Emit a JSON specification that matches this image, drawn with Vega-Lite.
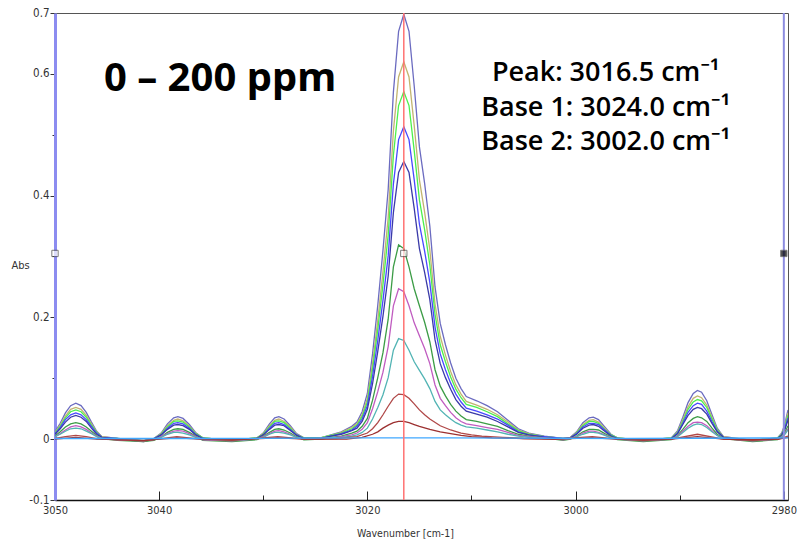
{
"$schema":"https://vega.github.io/schema/vega-lite/v6.json",
"width":733,"height":487,
"autosize":{"type":"none"},
"padding":{"left":55,"top":13,"right":11,"bottom":44},
"background":"white",
"config":{"view":{"stroke":"#555","strokeWidth":1}},
"datasets":{
"curves":[
{"c":1,"w":3050,"a":0.012},{"c":1,"w":3049.5,"a":0.026},{"c":1,"w":3049,"a":0.043},{"c":1,"w":3048.5,"a":0.055},{"c":1,"w":3048,"a":0.059},{"c":1,"w":3047.5,"a":0.055},{"c":1,"w":3047,"a":0.044},{"c":1,"w":3046.5,"a":0.028},{"c":1,"w":3046,"a":0.013},{"c":1,"w":3045.5,"a":0.004},{"c":1,"w":3044,"a":0.001},{"c":1,"w":3041.5,"a":-0.003},{"c":1,"w":3040.5,"a":0.001},{"c":1,"w":3039.8,"a":0.010},{"c":1,"w":3039.2,"a":0.025},{"c":1,"w":3038.6,"a":0.035},{"c":1,"w":3038.2,"a":0.037},{"c":1,"w":3037.7,"a":0.034},{"c":1,"w":3037.1,"a":0.024},{"c":1,"w":3036.5,"a":0.011},{"c":1,"w":3035.8,"a":0.002},{"c":1,"w":3033,"a":-0.002},{"c":1,"w":3030.6,"a":0.002},{"c":1,"w":3030,"a":0.010},{"c":1,"w":3029.4,"a":0.025},{"c":1,"w":3028.9,"a":0.035},{"c":1,"w":3028.5,"a":0.037},{"c":1,"w":3028,"a":0.033},{"c":1,"w":3027.4,"a":0.022},{"c":1,"w":3026.8,"a":0.009},{"c":1,"w":3026.1,"a":0.002},{"c":1,"w":3024.5,"a":0.002},{"c":1,"w":3023.5,"a":0.007},{"c":1,"w":3022.5,"a":0.012},{"c":1,"w":3021.5,"a":0.021},{"c":1,"w":3021,"a":0.028},{"c":1,"w":3020.5,"a":0.045},{"c":1,"w":3020,"a":0.075},{"c":1,"w":3019.5,"a":0.14},{"c":1,"w":3019,"a":0.22},{"c":1,"w":3018.5,"a":0.31},{"c":1,"w":3018,"a":0.41},{"c":1,"w":3017.5,"a":0.57},{"c":1,"w":3017,"a":0.67},{"c":1,"w":3016.5,"a":0.698},{"c":1,"w":3016,"a":0.67},{"c":1,"w":3015.5,"a":0.58},{"c":1,"w":3015,"a":0.48},{"c":1,"w":3014.5,"a":0.42},{"c":1,"w":3014,"a":0.35},{"c":1,"w":3013.5,"a":0.25},{"c":1,"w":3013,"a":0.19},{"c":1,"w":3012.5,"a":0.155},{"c":1,"w":3012,"a":0.125},{"c":1,"w":3011.5,"a":0.10},{"c":1,"w":3011,"a":0.083},{"c":1,"w":3010.5,"a":0.070},{"c":1,"w":3009.5,"a":0.063},{"c":1,"w":3008.5,"a":0.055},{"c":1,"w":3007.5,"a":0.045},{"c":1,"w":3006.5,"a":0.031},{"c":1,"w":3005.5,"a":0.017},{"c":1,"w":3004.5,"a":0.010},{"c":1,"w":3003,"a":0.005},{"c":1,"w":3001.2,"a":0.001},{"c":1,"w":3000.5,"a":0.003},{"c":1,"w":2999.9,"a":0.012},{"c":1,"w":2999.3,"a":0.027},{"c":1,"w":2998.7,"a":0.035},{"c":1,"w":2998.3,"a":0.036},{"c":1,"w":2997.8,"a":0.032},{"c":1,"w":2997.2,"a":0.020},{"c":1,"w":2996.6,"a":0.008},{"c":1,"w":2996,"a":0.002},{"c":1,"w":2993.5,"a":-0.002},{"c":1,"w":2990.8,"a":0.002},{"c":1,"w":2990.2,"a":0.014},{"c":1,"w":2989.7,"a":0.036},{"c":1,"w":2989.2,"a":0.060},{"c":1,"w":2988.7,"a":0.075},{"c":1,"w":2988.3,"a":0.080},{"c":1,"w":2987.9,"a":0.077},{"c":1,"w":2987.4,"a":0.063},{"c":1,"w":2986.9,"a":0.040},{"c":1,"w":2986.4,"a":0.018},{"c":1,"w":2985.8,"a":0.004},{"c":1,"w":2983,"a":-0.002},{"c":1,"w":2980.6,"a":0.002},{"c":1,"w":2980.2,"a":0.010},{"c":1,"w":2979.9,"a":0.025},{"c":1,"w":2979.6,"a":0.048},
{"c":2,"w":3050,"a":0.011},{"c":2,"w":3049.5,"a":0.023},{"c":2,"w":3049,"a":0.038},{"c":2,"w":3048.5,"a":0.049},{"c":2,"w":3048,"a":0.052},{"c":2,"w":3047.5,"a":0.049},{"c":2,"w":3047,"a":0.039},{"c":2,"w":3046.5,"a":0.025},{"c":2,"w":3046,"a":0.012},{"c":2,"w":3045.5,"a":0.004},{"c":2,"w":3044,"a":0.001},{"c":2,"w":3041.5,"a":-0.003},{"c":2,"w":3040.5,"a":0.001},{"c":2,"w":3039.8,"a":0.009},{"c":2,"w":3039.2,"a":0.022},{"c":2,"w":3038.6,"a":0.031},{"c":2,"w":3038.2,"a":0.033},{"c":2,"w":3037.7,"a":0.030},{"c":2,"w":3037.1,"a":0.021},{"c":2,"w":3036.5,"a":0.010},{"c":2,"w":3035.8,"a":0.002},{"c":2,"w":3033,"a":-0.002},{"c":2,"w":3030.6,"a":0.002},{"c":2,"w":3030,"a":0.009},{"c":2,"w":3029.4,"a":0.022},{"c":2,"w":3028.9,"a":0.031},{"c":2,"w":3028.5,"a":0.033},{"c":2,"w":3028,"a":0.029},{"c":2,"w":3027.4,"a":0.020},{"c":2,"w":3026.8,"a":0.008},{"c":2,"w":3026.1,"a":0.002},{"c":2,"w":3024.5,"a":0.002},{"c":2,"w":3023.5,"a":0.006},{"c":2,"w":3022.5,"a":0.011},{"c":2,"w":3021.5,"a":0.019},{"c":2,"w":3021,"a":0.025},{"c":2,"w":3020.5,"a":0.040},{"c":2,"w":3020,"a":0.067},{"c":2,"w":3019.5,"a":0.124},{"c":2,"w":3019,"a":0.195},{"c":2,"w":3018.5,"a":0.275},{"c":2,"w":3018,"a":0.364},{"c":2,"w":3017.5,"a":0.506},{"c":2,"w":3017,"a":0.595},{"c":2,"w":3016.5,"a":0.62},{"c":2,"w":3016,"a":0.595},{"c":2,"w":3015.5,"a":0.515},{"c":2,"w":3015,"a":0.426},{"c":2,"w":3014.5,"a":0.373},{"c":2,"w":3014,"a":0.311},{"c":2,"w":3013.5,"a":0.222},{"c":2,"w":3013,"a":0.169},{"c":2,"w":3012.5,"a":0.138},{"c":2,"w":3012,"a":0.111},{"c":2,"w":3011.5,"a":0.089},{"c":2,"w":3011,"a":0.074},{"c":2,"w":3010.5,"a":0.062},{"c":2,"w":3009.5,"a":0.056},{"c":2,"w":3008.5,"a":0.049},{"c":2,"w":3007.5,"a":0.040},{"c":2,"w":3006.5,"a":0.028},{"c":2,"w":3005.5,"a":0.015},{"c":2,"w":3004.5,"a":0.009},{"c":2,"w":3003,"a":0.004},{"c":2,"w":3001.2,"a":0.001},{"c":2,"w":3000.5,"a":0.003},{"c":2,"w":2999.9,"a":0.011},{"c":2,"w":2999.3,"a":0.024},{"c":2,"w":2998.7,"a":0.031},{"c":2,"w":2998.3,"a":0.032},{"c":2,"w":2997.8,"a":0.028},{"c":2,"w":2997.2,"a":0.018},{"c":2,"w":2996.6,"a":0.007},{"c":2,"w":2996,"a":0.002},{"c":2,"w":2993.5,"a":-0.002},{"c":2,"w":2990.8,"a":0.002},{"c":2,"w":2990.2,"a":0.012},{"c":2,"w":2989.7,"a":0.032},{"c":2,"w":2989.2,"a":0.053},{"c":2,"w":2988.7,"a":0.067},{"c":2,"w":2988.3,"a":0.071},{"c":2,"w":2987.9,"a":0.068},{"c":2,"w":2987.4,"a":0.056},{"c":2,"w":2986.9,"a":0.036},{"c":2,"w":2986.4,"a":0.016},{"c":2,"w":2985.8,"a":0.004},{"c":2,"w":2983,"a":-0.002},{"c":2,"w":2980.6,"a":0.002},{"c":2,"w":2980.2,"a":0.009},{"c":2,"w":2979.9,"a":0.022},{"c":2,"w":2979.6,"a":0.043},
{"c":3,"w":3050,"a":0.010},{"c":3,"w":3049.5,"a":0.021},{"c":3,"w":3049,"a":0.035},{"c":3,"w":3048.5,"a":0.045},{"c":3,"w":3048,"a":0.048},{"c":3,"w":3047.5,"a":0.045},{"c":3,"w":3047,"a":0.036},{"c":3,"w":3046.5,"a":0.023},{"c":3,"w":3046,"a":0.011},{"c":3,"w":3045.5,"a":0.003},{"c":3,"w":3044,"a":0.001},{"c":3,"w":3041.5,"a":-0.003},{"c":3,"w":3040.5,"a":0.001},{"c":3,"w":3039.8,"a":0.008},{"c":3,"w":3039.2,"a":0.020},{"c":3,"w":3038.6,"a":0.029},{"c":3,"w":3038.2,"a":0.030},{"c":3,"w":3037.7,"a":0.028},{"c":3,"w":3037.1,"a":0.020},{"c":3,"w":3036.5,"a":0.009},{"c":3,"w":3035.8,"a":0.002},{"c":3,"w":3033,"a":-0.002},{"c":3,"w":3030.6,"a":0.002},{"c":3,"w":3030,"a":0.008},{"c":3,"w":3029.4,"a":0.020},{"c":3,"w":3028.9,"a":0.029},{"c":3,"w":3028.5,"a":0.030},{"c":3,"w":3028,"a":0.027},{"c":3,"w":3027.4,"a":0.018},{"c":3,"w":3026.8,"a":0.007},{"c":3,"w":3026.1,"a":0.002},{"c":3,"w":3024.5,"a":0.002},{"c":3,"w":3023.5,"a":0.006},{"c":3,"w":3022.5,"a":0.010},{"c":3,"w":3021.5,"a":0.017},{"c":3,"w":3021,"a":0.023},{"c":3,"w":3020.5,"a":0.037},{"c":3,"w":3020,"a":0.061},{"c":3,"w":3019.5,"a":0.115},{"c":3,"w":3019,"a":0.180},{"c":3,"w":3018.5,"a":0.254},{"c":3,"w":3018,"a":0.335},{"c":3,"w":3017.5,"a":0.466},{"c":3,"w":3017,"a":0.548},{"c":3,"w":3016.5,"a":0.571},{"c":3,"w":3016,"a":0.548},{"c":3,"w":3015.5,"a":0.474},{"c":3,"w":3015,"a":0.393},{"c":3,"w":3014.5,"a":0.344},{"c":3,"w":3014,"a":0.286},{"c":3,"w":3013.5,"a":0.205},{"c":3,"w":3013,"a":0.155},{"c":3,"w":3012.5,"a":0.127},{"c":3,"w":3012,"a":0.102},{"c":3,"w":3011.5,"a":0.082},{"c":3,"w":3011,"a":0.068},{"c":3,"w":3010.5,"a":0.057},{"c":3,"w":3009.5,"a":0.052},{"c":3,"w":3008.5,"a":0.045},{"c":3,"w":3007.5,"a":0.037},{"c":3,"w":3006.5,"a":0.025},{"c":3,"w":3005.5,"a":0.014},{"c":3,"w":3004.5,"a":0.008},{"c":3,"w":3003,"a":0.004},{"c":3,"w":3001.2,"a":0.001},{"c":3,"w":3000.5,"a":0.002},{"c":3,"w":2999.9,"a":0.010},{"c":3,"w":2999.3,"a":0.022},{"c":3,"w":2998.7,"a":0.029},{"c":3,"w":2998.3,"a":0.029},{"c":3,"w":2997.8,"a":0.026},{"c":3,"w":2997.2,"a":0.016},{"c":3,"w":2996.6,"a":0.007},{"c":3,"w":2996,"a":0.002},{"c":3,"w":2993.5,"a":-0.002},{"c":3,"w":2990.8,"a":0.002},{"c":3,"w":2990.2,"a":0.011},{"c":3,"w":2989.7,"a":0.029},{"c":3,"w":2989.2,"a":0.049},{"c":3,"w":2988.7,"a":0.061},{"c":3,"w":2988.3,"a":0.065},{"c":3,"w":2987.9,"a":0.063},{"c":3,"w":2987.4,"a":0.052},{"c":3,"w":2986.9,"a":0.033},{"c":3,"w":2986.4,"a":0.015},{"c":3,"w":2985.8,"a":0.003},{"c":3,"w":2983,"a":-0.002},{"c":3,"w":2980.6,"a":0.002},{"c":3,"w":2980.2,"a":0.008},{"c":3,"w":2979.9,"a":0.020},{"c":3,"w":2979.6,"a":0.039},
{"c":4,"w":3050,"a":0.009},{"c":4,"w":3049.5,"a":0.019},{"c":4,"w":3049,"a":0.032},{"c":4,"w":3048.5,"a":0.040},{"c":4,"w":3048,"a":0.043},{"c":4,"w":3047.5,"a":0.040},{"c":4,"w":3047,"a":0.032},{"c":4,"w":3046.5,"a":0.021},{"c":4,"w":3046,"a":0.010},{"c":4,"w":3045.5,"a":0.003},{"c":4,"w":3044,"a":0.001},{"c":4,"w":3041.5,"a":-0.003},{"c":4,"w":3040.5,"a":0.001},{"c":4,"w":3039.8,"a":0.007},{"c":4,"w":3039.2,"a":0.018},{"c":4,"w":3038.6,"a":0.026},{"c":4,"w":3038.2,"a":0.027},{"c":4,"w":3037.7,"a":0.025},{"c":4,"w":3037.1,"a":0.018},{"c":4,"w":3036.5,"a":0.008},{"c":4,"w":3035.8,"a":0.001},{"c":4,"w":3033,"a":-0.002},{"c":4,"w":3030.6,"a":0.001},{"c":4,"w":3030,"a":0.007},{"c":4,"w":3029.4,"a":0.018},{"c":4,"w":3028.9,"a":0.026},{"c":4,"w":3028.5,"a":0.027},{"c":4,"w":3028,"a":0.024},{"c":4,"w":3027.4,"a":0.016},{"c":4,"w":3026.8,"a":0.007},{"c":4,"w":3026.1,"a":0.001},{"c":4,"w":3024.5,"a":0.001},{"c":4,"w":3023.5,"a":0.005},{"c":4,"w":3022.5,"a":0.009},{"c":4,"w":3021.5,"a":0.015},{"c":4,"w":3021,"a":0.021},{"c":4,"w":3020.5,"a":0.033},{"c":4,"w":3020,"a":0.055},{"c":4,"w":3019.5,"a":0.103},{"c":4,"w":3019,"a":0.162},{"c":4,"w":3018.5,"a":0.228},{"c":4,"w":3018,"a":0.301},{"c":4,"w":3017.5,"a":0.419},{"c":4,"w":3017,"a":0.492},{"c":4,"w":3016.5,"a":0.513},{"c":4,"w":3016,"a":0.492},{"c":4,"w":3015.5,"a":0.426},{"c":4,"w":3015,"a":0.353},{"c":4,"w":3014.5,"a":0.309},{"c":4,"w":3014,"a":0.257},{"c":4,"w":3013.5,"a":0.184},{"c":4,"w":3013,"a":0.140},{"c":4,"w":3012.5,"a":0.114},{"c":4,"w":3012,"a":0.092},{"c":4,"w":3011.5,"a":0.074},{"c":4,"w":3011,"a":0.061},{"c":4,"w":3010.5,"a":0.051},{"c":4,"w":3009.5,"a":0.046},{"c":4,"w":3008.5,"a":0.040},{"c":4,"w":3007.5,"a":0.033},{"c":4,"w":3006.5,"a":0.023},{"c":4,"w":3005.5,"a":0.012},{"c":4,"w":3004.5,"a":0.007},{"c":4,"w":3003,"a":0.004},{"c":4,"w":3001.2,"a":0.001},{"c":4,"w":3000.5,"a":0.002},{"c":4,"w":2999.9,"a":0.009},{"c":4,"w":2999.3,"a":0.020},{"c":4,"w":2998.7,"a":0.026},{"c":4,"w":2998.3,"a":0.026},{"c":4,"w":2997.8,"a":0.024},{"c":4,"w":2997.2,"a":0.015},{"c":4,"w":2996.6,"a":0.006},{"c":4,"w":2996,"a":0.001},{"c":4,"w":2993.5,"a":-0.002},{"c":4,"w":2990.8,"a":0.001},{"c":4,"w":2990.2,"a":0.010},{"c":4,"w":2989.7,"a":0.026},{"c":4,"w":2989.2,"a":0.044},{"c":4,"w":2988.7,"a":0.055},{"c":4,"w":2988.3,"a":0.059},{"c":4,"w":2987.9,"a":0.057},{"c":4,"w":2987.4,"a":0.046},{"c":4,"w":2986.9,"a":0.029},{"c":4,"w":2986.4,"a":0.013},{"c":4,"w":2985.8,"a":0.003},{"c":4,"w":2983,"a":-0.002},{"c":4,"w":2980.6,"a":0.001},{"c":4,"w":2980.2,"a":0.007},{"c":4,"w":2979.9,"a":0.018},{"c":4,"w":2979.6,"a":0.035},
{"c":5,"w":3050,"a":0.008},{"c":5,"w":3049.5,"a":0.017},{"c":5,"w":3049,"a":0.028},{"c":5,"w":3048.5,"a":0.036},{"c":5,"w":3048,"a":0.039},{"c":5,"w":3047.5,"a":0.036},{"c":5,"w":3047,"a":0.029},{"c":5,"w":3046.5,"a":0.018},{"c":5,"w":3046,"a":0.008},{"c":5,"w":3045.5,"a":0.003},{"c":5,"w":3044,"a":0.000},{"c":5,"w":3041.5,"a":-0.004},{"c":5,"w":3040.5,"a":0.000},{"c":5,"w":3039.8,"a":0.007},{"c":5,"w":3039.2,"a":0.016},{"c":5,"w":3038.6,"a":0.023},{"c":5,"w":3038.2,"a":0.024},{"c":5,"w":3037.7,"a":0.022},{"c":5,"w":3037.1,"a":0.016},{"c":5,"w":3036.5,"a":0.007},{"c":5,"w":3035.8,"a":0.001},{"c":5,"w":3033,"a":-0.003},{"c":5,"w":3030.6,"a":0.001},{"c":5,"w":3030,"a":0.007},{"c":5,"w":3029.4,"a":0.016},{"c":5,"w":3028.9,"a":0.023},{"c":5,"w":3028.5,"a":0.024},{"c":5,"w":3028,"a":0.022},{"c":5,"w":3027.4,"a":0.014},{"c":5,"w":3026.8,"a":0.006},{"c":5,"w":3026.1,"a":0.001},{"c":5,"w":3024.5,"a":0.001},{"c":5,"w":3023.5,"a":0.005},{"c":5,"w":3022.5,"a":0.008},{"c":5,"w":3021.5,"a":0.014},{"c":5,"w":3021,"a":0.018},{"c":5,"w":3020.5,"a":0.029},{"c":5,"w":3020,"a":0.049},{"c":5,"w":3019.5,"a":0.091},{"c":5,"w":3019,"a":0.144},{"c":5,"w":3018.5,"a":0.202},{"c":5,"w":3018,"a":0.268},{"c":5,"w":3017.5,"a":0.372},{"c":5,"w":3017,"a":0.438},{"c":5,"w":3016.5,"a":0.456},{"c":5,"w":3016,"a":0.438},{"c":5,"w":3015.5,"a":0.379},{"c":5,"w":3015,"a":0.313},{"c":5,"w":3014.5,"a":0.274},{"c":5,"w":3014,"a":0.229},{"c":5,"w":3013.5,"a":0.163},{"c":5,"w":3013,"a":0.124},{"c":5,"w":3012.5,"a":0.101},{"c":5,"w":3012,"a":0.082},{"c":5,"w":3011.5,"a":0.065},{"c":5,"w":3011,"a":0.054},{"c":5,"w":3010.5,"a":0.046},{"c":5,"w":3009.5,"a":0.041},{"c":5,"w":3008.5,"a":0.036},{"c":5,"w":3007.5,"a":0.029},{"c":5,"w":3006.5,"a":0.020},{"c":5,"w":3005.5,"a":0.011},{"c":5,"w":3004.5,"a":0.007},{"c":5,"w":3003,"a":0.003},{"c":5,"w":3001.2,"a":0.000},{"c":5,"w":3000.5,"a":0.002},{"c":5,"w":2999.9,"a":0.008},{"c":5,"w":2999.3,"a":0.018},{"c":5,"w":2998.7,"a":0.023},{"c":5,"w":2998.3,"a":0.024},{"c":5,"w":2997.8,"a":0.021},{"c":5,"w":2997.2,"a":0.013},{"c":5,"w":2996.6,"a":0.005},{"c":5,"w":2996,"a":0.001},{"c":5,"w":2993.5,"a":-0.003},{"c":5,"w":2990.8,"a":0.001},{"c":5,"w":2990.2,"a":0.009},{"c":5,"w":2989.7,"a":0.024},{"c":5,"w":2989.2,"a":0.039},{"c":5,"w":2988.7,"a":0.049},{"c":5,"w":2988.3,"a":0.052},{"c":5,"w":2987.9,"a":0.050},{"c":5,"w":2987.4,"a":0.041},{"c":5,"w":2986.9,"a":0.026},{"c":5,"w":2986.4,"a":0.012},{"c":5,"w":2985.8,"a":0.003},{"c":5,"w":2983,"a":-0.003},{"c":5,"w":2980.6,"a":0.001},{"c":5,"w":2980.2,"a":0.007},{"c":5,"w":2979.9,"a":0.016},{"c":5,"w":2979.6,"a":0.031},
{"c":6,"w":3050,"a":0.005},{"c":6,"w":3049.5,"a":0.012},{"c":6,"w":3049,"a":0.020},{"c":6,"w":3048.5,"a":0.025},{"c":6,"w":3048,"a":0.027},{"c":6,"w":3047.5,"a":0.025},{"c":6,"w":3047,"a":0.020},{"c":6,"w":3046.5,"a":0.013},{"c":6,"w":3046,"a":0.006},{"c":6,"w":3045.5,"a":0.001},{"c":6,"w":3044,"a":-0.002},{"c":6,"w":3041.5,"a":-0.004},{"c":6,"w":3040.5,"a":-0.002},{"c":6,"w":3039.8,"a":0.004},{"c":6,"w":3039.2,"a":0.011},{"c":6,"w":3038.6,"a":0.016},{"c":6,"w":3038.2,"a":0.017},{"c":6,"w":3037.7,"a":0.016},{"c":6,"w":3037.1,"a":0.011},{"c":6,"w":3036.5,"a":0.005},{"c":6,"w":3035.8,"a":-0.002},{"c":6,"w":3033,"a":-0.004},{"c":6,"w":3030.6,"a":-0.001},{"c":6,"w":3030,"a":0.005},{"c":6,"w":3029.4,"a":0.011},{"c":6,"w":3028.9,"a":0.016},{"c":6,"w":3028.5,"a":0.017},{"c":6,"w":3028,"a":0.015},{"c":6,"w":3027.4,"a":0.010},{"c":6,"w":3026.8,"a":0.004},{"c":6,"w":3026.1,"a":-0.001},{"c":6,"w":3024.5,"a":0.000},{"c":6,"w":3023.5,"a":0.003},{"c":6,"w":3022.5,"a":0.005},{"c":6,"w":3021.5,"a":0.010},{"c":6,"w":3021,"a":0.013},{"c":6,"w":3020.5,"a":0.021},{"c":6,"w":3020,"a":0.034},{"c":6,"w":3019.5,"a":0.064},{"c":6,"w":3019,"a":0.101},{"c":6,"w":3018.5,"a":0.142},{"c":6,"w":3018,"a":0.197},{"c":6,"w":3017.5,"a":0.283},{"c":6,"w":3017,"a":0.319},{"c":6,"w":3016.5,"a":0.313},{"c":6,"w":3016,"a":0.283},{"c":6,"w":3015.5,"a":0.247},{"c":6,"w":3015,"a":0.219},{"c":6,"w":3014.5,"a":0.192},{"c":6,"w":3014,"a":0.160},{"c":6,"w":3013.5,"a":0.114},{"c":6,"w":3013,"a":0.087},{"c":6,"w":3012.5,"a":0.071},{"c":6,"w":3012,"a":0.057},{"c":6,"w":3011.5,"a":0.046},{"c":6,"w":3011,"a":0.038},{"c":6,"w":3010.5,"a":0.032},{"c":6,"w":3009.5,"a":0.029},{"c":6,"w":3008.5,"a":0.025},{"c":6,"w":3007.5,"a":0.021},{"c":6,"w":3006.5,"a":0.014},{"c":6,"w":3005.5,"a":0.008},{"c":6,"w":3004.5,"a":0.005},{"c":6,"w":3003,"a":0.002},{"c":6,"w":3001.2,"a":-0.002},{"c":6,"w":3000.5,"a":0.000},{"c":6,"w":2999.9,"a":0.005},{"c":6,"w":2999.3,"a":0.012},{"c":6,"w":2998.7,"a":0.016},{"c":6,"w":2998.3,"a":0.016},{"c":6,"w":2997.8,"a":0.015},{"c":6,"w":2997.2,"a":0.009},{"c":6,"w":2996.6,"a":0.004},{"c":6,"w":2996,"a":-0.001},{"c":6,"w":2993.5,"a":-0.004},{"c":6,"w":2990.8,"a":-0.001},{"c":6,"w":2990.2,"a":0.006},{"c":6,"w":2989.7,"a":0.016},{"c":6,"w":2989.2,"a":0.027},{"c":6,"w":2988.7,"a":0.034},{"c":6,"w":2988.3,"a":0.037},{"c":6,"w":2987.9,"a":0.035},{"c":6,"w":2987.4,"a":0.029},{"c":6,"w":2986.9,"a":0.018},{"c":6,"w":2986.4,"a":0.008},{"c":6,"w":2985.8,"a":0.001},{"c":6,"w":2983,"a":-0.004},{"c":6,"w":2980.6,"a":-0.001},{"c":6,"w":2980.2,"a":0.005},{"c":6,"w":2979.9,"a":0.011},{"c":6,"w":2979.6,"a":0.022},
{"c":7,"w":3050,"a":0.004},{"c":7,"w":3049.5,"a":0.009},{"c":7,"w":3049,"a":0.015},{"c":7,"w":3048.5,"a":0.020},{"c":7,"w":3048,"a":0.022},{"c":7,"w":3047.5,"a":0.020},{"c":7,"w":3047,"a":0.016},{"c":7,"w":3046.5,"a":0.010},{"c":7,"w":3046,"a":0.005},{"c":7,"w":3045.5,"a":0.001},{"c":7,"w":3044,"a":-0.001},{"c":7,"w":3041.5,"a":-0.003},{"c":7,"w":3040.5,"a":-0.001},{"c":7,"w":3039.8,"a":0.004},{"c":7,"w":3039.2,"a":0.009},{"c":7,"w":3038.6,"a":0.013},{"c":7,"w":3038.2,"a":0.014},{"c":7,"w":3037.7,"a":0.013},{"c":7,"w":3037.1,"a":0.009},{"c":7,"w":3036.5,"a":0.004},{"c":7,"w":3035.8,"a":-0.001},{"c":7,"w":3033,"a":-0.003},{"c":7,"w":3030.6,"a":0.000},{"c":7,"w":3030,"a":0.004},{"c":7,"w":3029.4,"a":0.009},{"c":7,"w":3028.9,"a":0.013},{"c":7,"w":3028.5,"a":0.014},{"c":7,"w":3028,"a":0.012},{"c":7,"w":3027.4,"a":0.008},{"c":7,"w":3026.8,"a":0.003},{"c":7,"w":3026.1,"a":0.000},{"c":7,"w":3024.5,"a":0.001},{"c":7,"w":3023.5,"a":0.002},{"c":7,"w":3022.5,"a":0.004},{"c":7,"w":3021.5,"a":0.007},{"c":7,"w":3021,"a":0.010},{"c":7,"w":3020.5,"a":0.016},{"c":7,"w":3020,"a":0.027},{"c":7,"w":3019.5,"a":0.050},{"c":7,"w":3019,"a":0.078},{"c":7,"w":3018.5,"a":0.110},{"c":7,"w":3018,"a":0.152},{"c":7,"w":3017.5,"a":0.219},{"c":7,"w":3017,"a":0.247},{"c":7,"w":3016.5,"a":0.242},{"c":7,"w":3016,"a":0.219},{"c":7,"w":3015.5,"a":0.191},{"c":7,"w":3015,"a":0.170},{"c":7,"w":3014.5,"a":0.149},{"c":7,"w":3014,"a":0.124},{"c":7,"w":3013.5,"a":0.089},{"c":7,"w":3013,"a":0.067},{"c":7,"w":3012.5,"a":0.055},{"c":7,"w":3012,"a":0.044},{"c":7,"w":3011.5,"a":0.035},{"c":7,"w":3011,"a":0.029},{"c":7,"w":3010.5,"a":0.025},{"c":7,"w":3009.5,"a":0.022},{"c":7,"w":3008.5,"a":0.019},{"c":7,"w":3007.5,"a":0.016},{"c":7,"w":3006.5,"a":0.011},{"c":7,"w":3005.5,"a":0.006},{"c":7,"w":3004.5,"a":0.004},{"c":7,"w":3003,"a":0.002},{"c":7,"w":3001.2,"a":-0.001},{"c":7,"w":3000.5,"a":0.001},{"c":7,"w":2999.9,"a":0.004},{"c":7,"w":2999.3,"a":0.010},{"c":7,"w":2998.7,"a":0.013},{"c":7,"w":2998.3,"a":0.013},{"c":7,"w":2997.8,"a":0.011},{"c":7,"w":2997.2,"a":0.007},{"c":7,"w":2996.6,"a":0.003},{"c":7,"w":2996,"a":0.000},{"c":7,"w":2993.5,"a":-0.003},{"c":7,"w":2990.8,"a":0.000},{"c":7,"w":2990.2,"a":0.005},{"c":7,"w":2989.7,"a":0.013},{"c":7,"w":2989.2,"a":0.021},{"c":7,"w":2988.7,"a":0.027},{"c":7,"w":2988.3,"a":0.028},{"c":7,"w":2987.9,"a":0.027},{"c":7,"w":2987.4,"a":0.022},{"c":7,"w":2986.9,"a":0.014},{"c":7,"w":2986.4,"a":0.006},{"c":7,"w":2985.8,"a":0.001},{"c":7,"w":2983,"a":-0.003},{"c":7,"w":2980.6,"a":0.000},{"c":7,"w":2980.2,"a":0.004},{"c":7,"w":2979.9,"a":0.009},{"c":7,"w":2979.6,"a":0.017},
{"c":8,"w":3050,"a":0.004},{"c":8,"w":3049.5,"a":0.008},{"c":8,"w":3049,"a":0.013},{"c":8,"w":3048.5,"a":0.017},{"c":8,"w":3048,"a":0.018},{"c":8,"w":3047.5,"a":0.017},{"c":8,"w":3047,"a":0.013},{"c":8,"w":3046.5,"a":0.009},{"c":8,"w":3046,"a":0.004},{"c":8,"w":3045.5,"a":0.001},{"c":8,"w":3044,"a":0.000},{"c":8,"w":3041.5,"a":-0.002},{"c":8,"w":3040.5,"a":0.000},{"c":8,"w":3039.8,"a":0.003},{"c":8,"w":3039.2,"a":0.008},{"c":8,"w":3038.6,"a":0.011},{"c":8,"w":3038.2,"a":0.011},{"c":8,"w":3037.7,"a":0.010},{"c":8,"w":3037.1,"a":0.007},{"c":8,"w":3036.5,"a":0.003},{"c":8,"w":3035.8,"a":0.000},{"c":8,"w":3033,"a":-0.002},{"c":8,"w":3030.6,"a":0.000},{"c":8,"w":3030,"a":0.003},{"c":8,"w":3029.4,"a":0.008},{"c":8,"w":3028.9,"a":0.011},{"c":8,"w":3028.5,"a":0.011},{"c":8,"w":3028,"a":0.010},{"c":8,"w":3027.4,"a":0.007},{"c":8,"w":3026.8,"a":0.003},{"c":8,"w":3026.1,"a":0.000},{"c":8,"w":3024.5,"a":0.000},{"c":8,"w":3023.5,"a":0.002},{"c":8,"w":3022.5,"a":0.003},{"c":8,"w":3021.5,"a":0.005},{"c":8,"w":3021,"a":0.007},{"c":8,"w":3020.5,"a":0.011},{"c":8,"w":3020,"a":0.018},{"c":8,"w":3019.5,"a":0.033},{"c":8,"w":3019,"a":0.052},{"c":8,"w":3018.5,"a":0.073},{"c":8,"w":3018,"a":0.101},{"c":8,"w":3017.5,"a":0.146},{"c":8,"w":3017,"a":0.165},{"c":8,"w":3016.5,"a":0.162},{"c":8,"w":3016,"a":0.146},{"c":8,"w":3015.5,"a":0.127},{"c":8,"w":3015,"a":0.113},{"c":8,"w":3014.5,"a":0.099},{"c":8,"w":3014,"a":0.083},{"c":8,"w":3013.5,"a":0.062},{"c":8,"w":3013,"a":0.048},{"c":8,"w":3012.5,"a":0.040},{"c":8,"w":3012,"a":0.033},{"c":8,"w":3011.5,"a":0.027},{"c":8,"w":3011,"a":0.023},{"c":8,"w":3010.5,"a":0.020},{"c":8,"w":3009.5,"a":0.018},{"c":8,"w":3008.5,"a":0.015},{"c":8,"w":3007.5,"a":0.012},{"c":8,"w":3006.5,"a":0.008},{"c":8,"w":3005.5,"a":0.005},{"c":8,"w":3004.5,"a":0.003},{"c":8,"w":3003,"a":0.001},{"c":8,"w":3001.2,"a":0.000},{"c":8,"w":3000.5,"a":0.001},{"c":8,"w":2999.9,"a":0.004},{"c":8,"w":2999.3,"a":0.008},{"c":8,"w":2998.7,"a":0.011},{"c":8,"w":2998.3,"a":0.011},{"c":8,"w":2997.8,"a":0.010},{"c":8,"w":2997.2,"a":0.006},{"c":8,"w":2996.6,"a":0.002},{"c":8,"w":2996,"a":0.000},{"c":8,"w":2993.5,"a":-0.002},{"c":8,"w":2990.8,"a":0.000},{"c":8,"w":2990.2,"a":0.004},{"c":8,"w":2989.7,"a":0.011},{"c":8,"w":2989.2,"a":0.018},{"c":8,"w":2988.7,"a":0.023},{"c":8,"w":2988.3,"a":0.025},{"c":8,"w":2987.9,"a":0.024},{"c":8,"w":2987.4,"a":0.019},{"c":8,"w":2986.9,"a":0.012},{"c":8,"w":2986.4,"a":0.006},{"c":8,"w":2985.8,"a":0.001},{"c":8,"w":2983,"a":-0.002},{"c":8,"w":2980.6,"a":0.000},{"c":8,"w":2980.2,"a":0.003},{"c":8,"w":2979.9,"a":0.008},{"c":8,"w":2979.6,"a":0.015},
{"c":9,"w":3050,"a":0.001},{"c":9,"w":3049,"a":0.004},{"c":9,"w":3048,"a":0.006},{"c":9,"w":3047,"a":0.004},{"c":9,"w":3046,"a":0.001},{"c":9,"w":3041.5,"a":-0.003},{"c":9,"w":3038.3,"a":0.004},{"c":9,"w":3036,"a":0.000},{"c":9,"w":3033,"a":-0.002},{"c":9,"w":3028.6,"a":0.004},{"c":9,"w":3026,"a":0.000},{"c":9,"w":3023,"a":0.001},{"c":9,"w":3021,"a":0.004},{"c":9,"w":3020,"a":0.010},{"c":9,"w":3019.5,"a":0.017},{"c":9,"w":3019,"a":0.027},{"c":9,"w":3018.5,"a":0.040},{"c":9,"w":3018,"a":0.054},{"c":9,"w":3017.5,"a":0.067},{"c":9,"w":3017,"a":0.074},{"c":9,"w":3016.5,"a":0.073},{"c":9,"w":3016,"a":0.067},{"c":9,"w":3015.5,"a":0.058},{"c":9,"w":3015,"a":0.048},{"c":9,"w":3014.5,"a":0.040},{"c":9,"w":3014,"a":0.033},{"c":9,"w":3013,"a":0.022},{"c":9,"w":3012,"a":0.015},{"c":9,"w":3011,"a":0.010},{"c":9,"w":3010,"a":0.007},{"c":9,"w":3009,"a":0.005},{"c":9,"w":3007,"a":0.003},{"c":9,"w":3005,"a":0.001},{"c":9,"w":3002,"a":0.000},{"c":9,"w":2998.4,"a":0.004},{"c":9,"w":2996,"a":0.000},{"c":9,"w":2993.5,"a":-0.002},{"c":9,"w":2990.8,"a":0.000},{"c":9,"w":2988.3,"a":0.008},{"c":9,"w":2985.8,"a":0.000},{"c":9,"w":2983,"a":-0.002},{"c":9,"w":2980.5,"a":0.000},{"c":9,"w":2979.6,"a":0.005},
{"c":10,"w":3050,"a":0.000},{"c":10,"w":3048,"a":0.003},{"c":10,"w":3046,"a":0.000},{"c":10,"w":3041.5,"a":-0.002},{"c":10,"w":3038.3,"a":0.002},{"c":10,"w":3036,"a":0.000},{"c":10,"w":3033,"a":-0.001},{"c":10,"w":3028.6,"a":0.002},{"c":10,"w":3026,"a":0.000},{"c":10,"w":3022,"a":0.000},{"c":10,"w":3020.5,"a":0.003},{"c":10,"w":3019.5,"a":0.008},{"c":10,"w":3019,"a":0.012},{"c":10,"w":3018.5,"a":0.018},{"c":10,"w":3018,"a":0.023},{"c":10,"w":3017.5,"a":0.027},{"c":10,"w":3017,"a":0.029},{"c":10,"w":3016.5,"a":0.029},{"c":10,"w":3016,"a":0.027},{"c":10,"w":3015.5,"a":0.024},{"c":10,"w":3015,"a":0.021},{"c":10,"w":3014,"a":0.016},{"c":10,"w":3013,"a":0.012},{"c":10,"w":3012,"a":0.009},{"c":10,"w":3011,"a":0.006},{"c":10,"w":3010,"a":0.004},{"c":10,"w":3008,"a":0.002},{"c":10,"w":3005,"a":0.001},{"c":10,"w":3002,"a":0.000},{"c":10,"w":2998.4,"a":0.002},{"c":10,"w":2996,"a":0.000},{"c":10,"w":2993.5,"a":-0.001},{"c":10,"w":2990.8,"a":0.000},{"c":10,"w":2988.3,"a":0.004},{"c":10,"w":2985.8,"a":0.000},{"c":10,"w":2983,"a":-0.001},{"c":10,"w":2980.5,"a":0.000},{"c":10,"w":2979.6,"a":0.003},
{"c":11,"w":3050,"a":0.001},{"c":11,"w":3035,"a":0.001},{"c":11,"w":3020,"a":0.002},{"c":11,"w":3012,"a":0.002},{"c":11,"w":2995,"a":0.001},{"c":11,"w":2979.6,"a":0.002}
],
"vrules":[{"w":2980}],
"peakline":[{"w":3016.5}],
"marks":[{"w":3050,"a":0.305,"f":"open"},{"w":3016.5,"a":0.305,"f":"open"},{"w":2980,"a":0.305,"f":"filled"}],
"title":[{"t":"0 – 200 ppm","w":3045.3,"a":0.592}],
"info":[{"t":"Peak: 3016.5 cm⁻¹","w":2997.1,"a":0.601},{"t":"Base 1: 3024.0 cm⁻¹","w":2997.1,"a":0.5435},{"t":"Base 2: 3002.0 cm⁻¹","w":2997.1,"a":0.4875}]
},
"layer":[
{"data":{"name":"curves"},
 "mark":{"type":"line","strokeWidth":1.3,"clip":true},
 "encoding":{
  "x":{"field":"w","type":"quantitative","scale":{"domain":[2979.6,3050],"reverse":true,"nice":false,"zero":false},
   "axis":{"title":"Wavenumber [cm-1]","values":[3050,3040,3030,3020,3010,3000,2990,2980],"format":"d",
    "labelExpr":"indexof([3030,3010,2990], datum.value) >= 0 ? '' : datum.label",
    "tickSize":{"condition":{"test":"indexof([3030,3010,2990], datum.value) >= 0","value":-5},"value":-9},
    "labelPadding":13,"domainColor":"#111","domainWidth":1.5,"tickColor":"#222","tickWidth":1,
    "labelFont":"DejaVu Sans Condensed, Liberation Sans","labelFontSize":11,"labelColor":"#333","labelFlush":false,"labelOverlap":false,
    "titleFont":"DejaVu Sans Condensed, Liberation Sans","titleFontSize":10.5,"titleFontWeight":"normal","titleColor":"#333",
    "titleX":350,"titleY":33,"titleBaseline":"middle","titleAlign":"center","grid":false}},
  "y":{"field":"a","type":"quantitative","scale":{"domain":[-0.1,0.7],"nice":false,"zero":false},
   "axis":{"title":"Abs","values":[-0.1,0,0.1,0.2,0.3,0.4,0.5,0.6,0.7],
    "labelExpr":"((datum.value > 0.05 && datum.value < 0.15) || (datum.value > 0.25 && datum.value < 0.35) || (datum.value > 0.45 && datum.value < 0.55)) ? '' : (datum.value < 0 ? '-0.1' : format(datum.value, '~g'))",
    "tickSize":{"condition":{"test":"(datum.value > 0.05 && datum.value < 0.15) || (datum.value > 0.25 && datum.value < 0.35) || (datum.value > 0.45 && datum.value < 0.55)","value":3},"value":5},
    "labelPadding":1,"domainColor":"#8c8cf0","domainWidth":3,"tickColor":"#333",
    "labelFont":"DejaVu Sans Condensed, Liberation Sans","labelFontSize":11.5,"labelColor":"#333","labelFlush":false,"labelOverlap":false,
    "titleFont":"DejaVu Sans Condensed, Liberation Sans","titleFontSize":11,"titleFontWeight":"normal","titleColor":"#333",
    "titleAngle":0,"titleX":-35,"titleY":252,"titleAlign":"center","titleBaseline":"middle","grid":false}},
  "color":{"field":"c","type":"nominal","legend":null,
   "scale":{"domain":[1,2,3,4,5,6,7,8,9,10,11],"range":["#6b6bc0","#c2b470","#4cf04c","#4848ff","#3a3aa8","#3c9c46","#c05cc0","#52b4b4","#b04848","#9c3030","#40a8ff"]}}
 }},
{"data":{"name":"vrules"},"mark":{"type":"rule","color":"#8c8ce0","strokeWidth":2},"encoding":{"x":{"field":"w","type":"quantitative"}}},
{"data":{"name":"peakline"},"mark":{"type":"rule","color":"#ff7272","strokeWidth":1.5},"encoding":{"x":{"field":"w","type":"quantitative"}}},
{"data":{"name":"marks"},"mark":{"type":"point","shape":"square","filled":true,"size":40,"stroke":"#444","strokeWidth":1},
 "encoding":{"x":{"field":"w","type":"quantitative"},"y":{"field":"a","type":"quantitative"},
  "fill":{"field":"f","type":"nominal","legend":null,"scale":{"domain":["open","filled"],"range":["white","black"]}}}},
{"data":{"name":"title"},"mark":{"type":"text","font":"Noto Sans","fontSize":40,"fontWeight":"bold","align":"left","baseline":"middle","color":"black"},
 "encoding":{"x":{"field":"w","type":"quantitative"},"y":{"field":"a","type":"quantitative"},"text":{"field":"t"}}},
{"data":{"name":"info"},"mark":{"type":"text","font":"Open Sans, Noto Sans","fontSize":27,"fontWeight":600,"align":"center","baseline":"middle","color":"black"},
 "encoding":{"x":{"field":"w","type":"quantitative"},"y":{"field":"a","type":"quantitative"},"text":{"field":"t"}}}
]
}
